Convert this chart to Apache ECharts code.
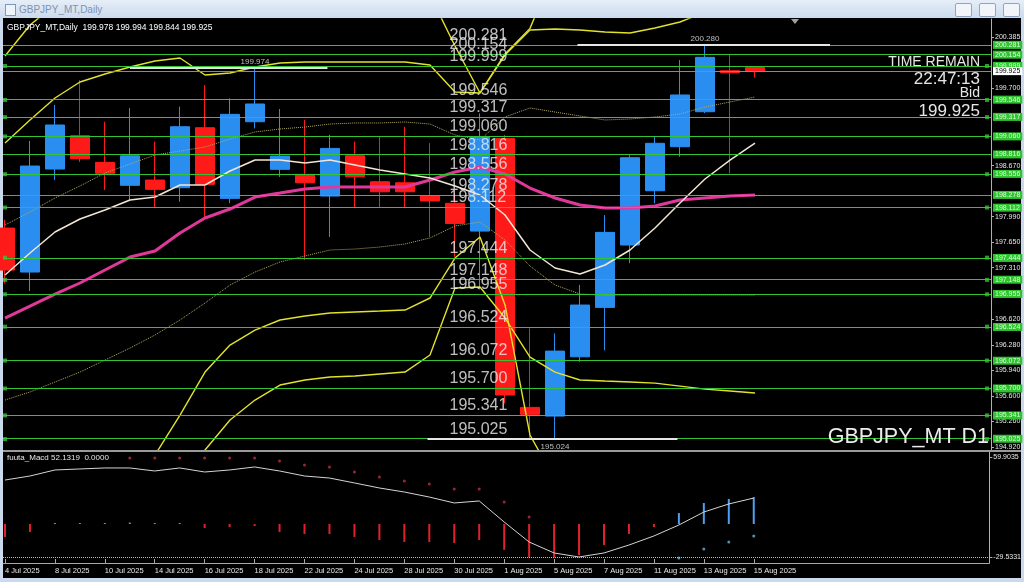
<!DOCTYPE html>
<html><head><meta charset="utf-8">
<script src="https://cdn.jsdelivr.net/npm/echarts@6/dist/echarts.min.js"></script>
<style>
html,body{margin:0;padding:0;width:1024px;height:582px;overflow:hidden;background:#cad9ec;font-family:'Liberation Sans',Arial,sans-serif;}
#titlebar{position:absolute;left:0;top:0;width:1024px;height:18px;background:linear-gradient(#e6eef8,#cbdaee);}
#icon{position:absolute;left:5px;top:4px;width:9px;height:10px;border:1px solid #7f98b8;background:#eef4fb;}
#title{position:absolute;left:19px;top:4px;font-size:10px;color:#7d93b0;}
.btn{position:absolute;top:3px;width:15px;height:12px;border:1px solid #8ea6c4;background:#f1f5fa;border-radius:2px;}
#plot{position:absolute;left:3px;top:18px;width:1018px;height:560px;background:#000;}
#chart{position:absolute;left:0;top:0;width:1024px;height:582px;}
</style></head>
<body>
<div id="titlebar"><div id="icon"></div><div id="title">GBPJPY_MT,Daily</div>
<div class="btn" style="left:955px"></div><div class="btn" style="left:979px"></div><div class="btn" style="left:1003px"></div></div>
<div id="plot"></div>
<div id="chart"></div>
<script>
// ---------- data ----------
const dates = ['4 Jul 2025','7 Jul 2025','8 Jul 2025','9 Jul 2025','10 Jul 2025','11 Jul 2025','14 Jul 2025','15 Jul 2025','16 Jul 2025','17 Jul 2025','18 Jul 2025','21 Jul 2025','22 Jul 2025','23 Jul 2025','24 Jul 2025','25 Jul 2025','28 Jul 2025','29 Jul 2025','30 Jul 2025','31 Jul 2025','1 Aug 2025','4 Aug 2025','5 Aug 2025','6 Aug 2025','7 Aug 2025','8 Aug 2025','11 Aug 2025','12 Aug 2025','13 Aug 2025','14 Aug 2025','15 Aug 2025'];
const opens  = [197.838,197.252,198.625,199.070,198.714,198.408,198.478,198.376,199.176,198.234,199.256,198.621,198.554,198.265,198.803,198.456,198.442,198.265,198.168,197.798,199.034,195.448,195.332,196.122,196.781,197.612,198.336,198.923,199.389,199.935,199.978];
const highs  = [197.950,199.000,199.480,199.810,199.256,199.438,198.990,199.456,199.745,199.568,199.974,199.425,199.280,199.080,198.990,199.056,199.190,198.970,198.305,199.368,199.080,196.501,196.435,197.080,198.012,198.810,199.056,200.078,200.280,200.145,199.994];
const lows   = [197.100,197.000,198.480,198.720,198.345,198.210,198.120,198.190,197.970,198.170,199.167,198.520,197.410,197.720,198.120,198.120,198.120,197.720,197.455,197.020,195.500,195.040,195.024,196.056,196.210,197.370,198.168,198.789,199.370,198.567,199.844];
const closes = [197.278,198.665,199.212,198.763,198.568,198.802,198.354,199.189,198.421,199.354,199.492,198.798,198.442,198.900,198.522,198.322,198.322,198.200,197.900,199.056,195.613,195.355,196.198,196.812,197.781,198.776,198.968,199.612,200.114,199.910,199.925];

const maFast = [197.212,197.506,197.786,197.959,198.079,198.212,198.252,198.412,198.412,198.599,198.745,198.745,198.705,198.745,198.679,198.612,198.559,198.505,198.399,198.279,198.012,197.546,197.306,197.226,197.346,197.546,197.839,198.172,198.492,198.745,198.972];
const maSlow = [196.639,196.799,196.959,197.106,197.279,197.452,197.532,197.772,197.972,198.092,198.252,198.305,198.359,198.385,198.385,198.385,198.385,198.479,198.585,198.652,198.559,198.372,198.239,198.145,198.105,198.105,198.132,198.212,198.239,198.265,198.279];
const band1Up = [197.879,198.052,198.239,198.399,198.572,198.692,198.812,198.865,198.919,199.025,199.119,199.159,199.185,199.225,199.239,199.239,199.252,199.225,199.079,199.012,199.319,199.439,199.385,199.332,199.279,199.292,199.319,199.359,199.452,199.519,199.585];
const band1Dn = [195.546,195.653,195.786,195.919,196.079,196.239,196.413,196.613,196.839,197.079,197.252,197.386,197.466,197.546,197.559,197.586,197.626,197.706,197.866,197.919,197.679,197.332,197.079,196.959,196.946,196.946,196.946,196.946,196.946,196.946,196.946];
const band2Up = [198.972,199.279,199.572,199.785,199.892,199.985,200.065,200.105,199.878,199.905,199.985,200.038,200.052,200.052,200.052,200.052,200.052,200.012,199.652,199.639,200.145,200.478,200.492,200.478,200.452,200.438,200.505,200.585,200.718,200.798,200.878];
const band3Up = [200.132,200.545,200.812,201.012,201.012,201.012,201.012,201.012,201.012,201.012,201.012,201.012,201.012,201.012,201.012,201.012,201.012,200.945,200.265,199.639,200.160,200.500,201.300,201.678,201.678,201.678,201.678,201.678,201.678,201.678,201.678];
const band2Dn = [194.213,194.213,194.213,194.213,194.213,194.213,194.813,195.346,195.919,196.279,196.479,196.613,196.666,196.706,196.719,196.732,196.746,196.906,197.439,197.719,196.813,195.080,194.480,194.213,194.213,194.213,194.213,194.213,194.213,194.213,194.213];
const band3Dn = [194.213,194.213,194.213,194.213,194.213,194.213,194.213,194.213,194.880,195.280,195.546,195.746,195.813,195.853,195.866,195.893,195.919,196.146,197.039,197.052,196.639,196.119,195.919,195.813,195.799,195.786,195.772,195.732,195.692,195.666,195.639];

const levels = [200.281,200.154,199.999,199.546,199.317,199.060,198.816,198.556,198.278,198.112,197.444,197.148,196.955,196.524,196.072,195.700,195.341,195.025];
const markedLevels = [199.999,199.546,199.317,199.060,198.556,198.112,197.444,197.148,196.955,196.524,196.072,195.700,195.341,195.025];
const bidPrice = 199.925;
const highLow = [ {price:199.974, at:10, from:5, to:12.9, above:true},
                  {price:200.280, at:28, from:22.9, to:33, above:true},
                  {price:195.024, at:22, from:16.9, to:26.9, above:false} ];
const priceTicks = [200.385,199.700,198.670,197.990,197.650,197.310,196.620,196.280,195.940,195.600,195.260,194.920];
const tickIdx = [0,2,4,6,8,10,12,14,16,18,20,22,24,26,28,30];
const tickLabels = ['4 Jul 2025','8 Jul 2025','10 Jul 2025','14 Jul 2025','16 Jul 2025','18 Jul 2025','22 Jul 2025','24 Jul 2025','28 Jul 2025','30 Jul 2025','1 Aug 2025','5 Aug 2025','7 Aug 2025','11 Aug 2025','13 Aug 2025','15 Aug 2025'];

const macdLine = [39.3,42.9,48.3,49.2,50.1,50.1,47.4,50.1,46.5,48.3,51.0,47.4,42.9,41.1,36.7,32.2,28.6,24.1,18.8,20.6,1.8,-16.1,-25.9,-29.5,-25.9,-18.8,-10.7,-0.9,10.7,17.9,23.2];
const macdHist = [-11.6,-7.2,0.9,0.9,0.9,1.3,0.9,0.9,-3.6,-2.7,-1.8,-7.2,-9.0,-9.0,-11.6,-14.3,-16.1,-16.1,-17.0,-14.3,-23.2,-30.0,-30.0,-27.7,-18.8,-8.9,-2.7,9.8,18.8,22.4,24.1];
const redDots = [null,null,null,null,null,59.0,59.0,59.0,59.0,59.0,59.0,56.3,52.7,50.9,46.5,42.0,38.4,35.8,31.3,31.3,19.7,6.3,null,null,null,null,null,null,null,null,null];
const cyanDots = [null,null,null,null,null,null,null,null,null,null,null,null,null,null,null,null,null,null,null,null,null,null,null,null,null,null,null,-30.4,-22.4,-16.1,-10.7];
const macdTicks = [59.9035,-29.5331];

// ---------- chart ----------
const chart = echarts.init(document.getElementById('chart'), null, {renderer:'canvas'});
const xy = arr => arr.map((v,i)=> v==null ? null : [i,v]).filter(d=>d);
const F = "'Liberation Sans', Arial, sans-serif";
const GREEN = '#33c433';
const lineS = (data, color, width, type, z) => ({type:'line', xAxisIndex:0, yAxisIndex:0, data:xy(data), symbol:'none', smooth:false, z:z||3, silent:true,
   lineStyle:{color, width, type:type||'solid'}});

const xBase = {type:'value', min:-0.08, max:39.44, splitLine:{show:false}};
const option = {
  animation:false,
  backgroundColor:'transparent',
  grid:[{left:3, top:19, width:988, height:431},{left:3, top:452, width:988, height:111}],
  xAxis:[
    Object.assign({}, xBase, {gridIndex:0, axisLine:{show:false, onZero:false}, axisTick:{show:false}, axisLabel:{show:false}}),
    Object.assign({}, xBase, {gridIndex:1, axisLine:{show:true, onZero:false, lineStyle:{color:'#a8a8a8'}},
      axisTick:{show:true, inside:true, length:4, customValues:tickIdx, lineStyle:{color:'#a8a8a8'}},
      axisLabel:{show:true, customValues:tickIdx, formatter:v=>tickLabels[tickIdx.indexOf(v)], color:'#e8e8e8', fontSize:7.5, fontFamily:F, align:'left', margin:4}})
  ],
  yAxis:[
    {type:'value', gridIndex:0, position:'right', min:194.880, max:200.625, splitLine:{show:false},
     axisLine:{show:true, onZero:false, lineStyle:{color:'#b0b0b0'}},
     axisTick:{show:true, length:3, customValues:priceTicks, lineStyle:{color:'#b0b0b0'}},
     axisLabel:{customValues:priceTicks, formatter:v=>v.toFixed(3), color:'#e8e8e8', fontSize:7, fontFamily:F, margin:4}},
    {type:'value', gridIndex:1, position:'right', min:-34.87, max:64.37, splitLine:{show:false},
     axisLine:{show:true, onZero:false, lineStyle:{color:'#b0b0b0'}},
     axisTick:{show:true, length:3, customValues:macdTicks, lineStyle:{color:'#b0b0b0'}},
     axisLabel:{customValues:macdTicks, formatter:v=>v.toFixed(4), color:'#e8e8e8', fontSize:7, fontFamily:F, margin:4}}
  ],
  series:[
    {type:'candlestick', xAxisIndex:0, yAxisIndex:0, z:2, barWidth:19, silent:true,
     data: dates.map((d,i)=>[i, opens[i], closes[i], lows[i], highs[i]]),
     encode:{x:0, y:[1,2,3,4]},
     itemStyle:{color:'#2a8ef0', color0:'#ff1a1a', borderColor:'#2a8ef0', borderColor0:'#ff1a1a', borderWidth:1}},
    lineS(band1Up, '#b3aa60', 1, 'dotted'),
    lineS(band1Dn, '#b3aa60', 1, 'dotted'),
    lineS(band2Up, '#e2e22a', 1.4),
    lineS(band3Up, '#e2e22a', 1.4),
    lineS(band2Dn, '#e2e22a', 1.4),
    lineS(band3Dn, '#e2e22a', 1.4),
    lineS(maSlow, '#e0389a', 3, 'solid', 3),
    lineS(maFast, '#f3e6d2', 1.5, 'solid', 3),
    // horizontal level lines
    {type:'line', xAxisIndex:0, yAxisIndex:0, data:[], z:4, silent:true,
     markLine:{symbol:'none', silent:true, animation:false,
       data: [
         ...levels.map(v=>({yAxis:v, lineStyle:{color:GREEN, width:1, type:'solid'},
            label:{show:true, position:'end', distance:2, formatter:v.toFixed(3), backgroundColor:'#2fc42f', color:'#d6ffd6', fontSize:7, fontFamily:F, padding:[1,2,0,2]}})),
         {yAxis:bidPrice, lineStyle:{color:'#8a8a8a', width:1, type:'solid'},
            label:{show:true, position:'end', distance:2, formatter:bidPrice.toFixed(3), backgroundColor:'#ffffff', color:'#000', fontSize:7, fontFamily:F, padding:[1,2,0,2]}},
         ...highLow.map(h=>[{coord:[h.from,h.price], lineStyle:{color:'#e6e6e6', width:2, type:'solid'}, label:{show:false}},{coord:[h.to,h.price]}])
       ]}},
    // marker squares on level lines
    {type:'scatter', xAxisIndex:0, yAxisIndex:0, z:5, silent:true, symbol:'rect', symbolSize:4, itemStyle:{color:GREEN},
     data:[...markedLevels.map(v=>[0,v]), ...markedLevels.map(v=>[39.28,v])]},
    // big level texts
    {type:'scatter', xAxisIndex:0, yAxisIndex:0, z:6, silent:true, symbolSize:1, itemStyle:{color:'rgba(0,0,0,0)'},
     data: levels.map(v=>[17.8, v]),
     label:{show:true, formatter:p=>p.value[1].toFixed(3), position:[0,-1], align:'left', verticalAlign:'bottom', color:'#ececec', fontSize:16, fontFamily:F}},
    // high/low value labels
    {type:'scatter', xAxisIndex:0, yAxisIndex:0, z:6, silent:true, symbolSize:1, itemStyle:{color:'rgba(0,0,0,0)'},
     data: highLow.map(h=>({value:[h.at, h.price], label:{position: h.above ? 'top' : 'bottom', distance: h.above ? 2 : 3}})),
     label:{show:true, formatter:p=>p.value[1].toFixed(3), color:'#e6e6e6', fontSize:8, fontFamily:F}},
    // MACD panel
    {type:'bar', xAxisIndex:1, yAxisIndex:1, barWidth:2, silent:true, z:2,
     data: macdHist.map((v,i)=>({value:[i,v], itemStyle:{color: v<-1.5 ? '#e0202a' : (v>2 ? '#4d9ff0' : '#8c8c8c')}}))},
    {type:'line', xAxisIndex:1, yAxisIndex:1, data:xy(macdLine), symbol:'none', z:3, silent:true, lineStyle:{color:'#d4d4d4', width:1},
     markLine:{symbol:'none', silent:true, data:[{yAxis:-29.5331, label:{show:false}, lineStyle:{color:'#bdbdbd', type:'dotted', width:1}}]}},
    {type:'scatter', xAxisIndex:1, yAxisIndex:1, data:xy(redDots), symbolSize:3, z:4, silent:true, itemStyle:{color:'#c03040'}},
    {type:'scatter', xAxisIndex:1, yAxisIndex:1, data:xy(cyanDots), symbolSize:3, z:4, silent:true, itemStyle:{color:'#5fb8e0'}}
  ],
  graphic:[
    {type:'line', z:10, shape:{x1:3, y1:451, x2:1021, y2:451}, style:{stroke:'#9a9a9a', lineWidth:2}},
    {type:'polygon', z:10, shape:{points:[[791,19],[799,19],[795,24]]}, style:{fill:'#a0a0a0'}},
    {type:'text', z:10, x:7, y:28, style:{text:'GBPJPY_MT,Daily  199.978 199.994 199.844 199.925', fill:'#ffffff', font:"8.5px 'Liberation Sans'", textVerticalAlign:'middle'}},
    {type:'text', z:10, x:7, y:458, style:{text:'fuuta_Macd 52.1319  0.0000', fill:'#e6e6e6', font:"8px 'Liberation Sans'", textVerticalAlign:'middle'}},
    {type:'text', z:10, x:980, y:62, style:{text:'TIME REMAIN', fill:'#e6e6e6', font:"14px 'Liberation Sans'", textAlign:'right', textVerticalAlign:'middle'}},
    {type:'text', z:10, x:980, y:79, style:{text:'22:47:13', fill:'#e6e6e6', font:"17px 'Liberation Sans'", textAlign:'right', textVerticalAlign:'middle'}},
    {type:'text', z:10, x:980, y:93, style:{text:'Bid', fill:'#e6e6e6', font:"14px 'Liberation Sans'", textAlign:'right', textVerticalAlign:'middle'}},
    {type:'text', z:10, x:980, y:111, style:{text:'199.925', fill:'#e6e6e6', font:"17px 'Liberation Sans'", textAlign:'right', textVerticalAlign:'middle'}},
    {type:'text', z:10, x:989, y:437, style:{text:'GBPJPY_MT D1', fill:'#ececec', font:"21.5px 'Liberation Sans'", textAlign:'right', textVerticalAlign:'middle'}}
  ]
};
chart.setOption(option);
</script>
</body></html>
